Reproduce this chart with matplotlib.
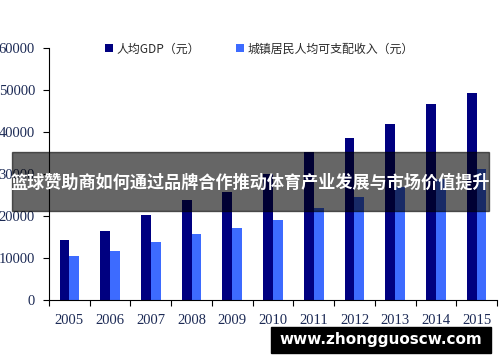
import matplotlib
matplotlib.use('Agg')
import matplotlib.pyplot as plt
import numpy as np

plt.rcParams['font.family'] = ['Noto Sans CJK SC', 'DejaVu Sans']

years = ['2005', '2006', '2007', '2008', '2009', '2010',
         '2011', '2012', '2013', '2014', '2015']
gdp_per_capita = [14185, 16500, 20169, 23708, 25608, 30015,
                  35198, 38459, 41908, 46629, 49351]
urban_income = [10493, 11759, 13786, 15781, 17175, 19109,
                21810, 24565, 26955, 28844, 31195]
gdp_label = '人均GDP（元）'
income_label = '城镇居民人均可支配收入（元）'
y_ticks = [0, 10000, 20000, 30000, 40000, 50000, 60000]

title = '篮球赞助商如何通过品牌合作推动体育产业发展与市场价值提升'
watermark = 'www.zhongguoscw.com'

fig = plt.figure(figsize=(5, 3.62), dpi=100)
ax = fig.add_axes([0.098, 0.1713, 0.896, 0.6961])

x = np.arange(len(years))
w = 0.24
ax.bar(x - w / 2, gdp_per_capita, w, color='#000080', label=gdp_label)
ax.bar(x + w / 2, urban_income, w, color='#3d6bff', label=income_label)

ax.set_xlim(-0.5, len(years) - 0.5)
ax.set_ylim(0, 60000)
ax.set_yticks(y_ticks)
ax.set_yticklabels([str(v) for v in y_ticks], family='Liberation Serif',
                   fontsize=10.5, color='#1c2a55')
ax.set_xticks(np.arange(len(years) + 1) - 0.5)
ax.set_xticklabels([])
ax.set_xticks(x, minor=True)
ax.set_xticklabels(years, minor=True, family='Liberation Serif',
                   fontsize=10.5, color='#1c2a55')
ax.tick_params(axis='x', which='minor', length=0, pad=10)
ax.tick_params(axis='x', which='major', length=4, direction='out')
ax.tick_params(axis='y', length=4, direction='out', pad=6)
for s in ['top', 'right']:
    ax.spines[s].set_visible(False)

ax.legend(loc='upper left', bbox_to_anchor=(0.1, 1.065), ncol=2, frameon=False,
          fontsize=8.6, handlelength=0.7, handleheight=0.7, handletextpad=0.3,
          columnspacing=3.0, labelcolor='#2a2a2a')

# overlay banner
fig.patches.append(plt.Rectangle((0.024, 0.417), 0.954, 0.163, transform=fig.transFigure,
                                 color='black', alpha=0.6, zorder=5))
fig.text(0.5, 0.495, title, ha='center', va='center', color='white',
         fontsize=12.3, fontweight='bold', zorder=6)

fig.patches.append(plt.Rectangle((0.542, 0.025), 0.44, 0.072, transform=fig.transFigure,
                                 color='black', zorder=5))
fig.text(0.762, 0.061, watermark, ha='center', va='center', color='white',
         fontsize=11, fontweight='bold', family='DejaVu Sans', zorder=6)

fig.savefig('out.png', dpi=100)
